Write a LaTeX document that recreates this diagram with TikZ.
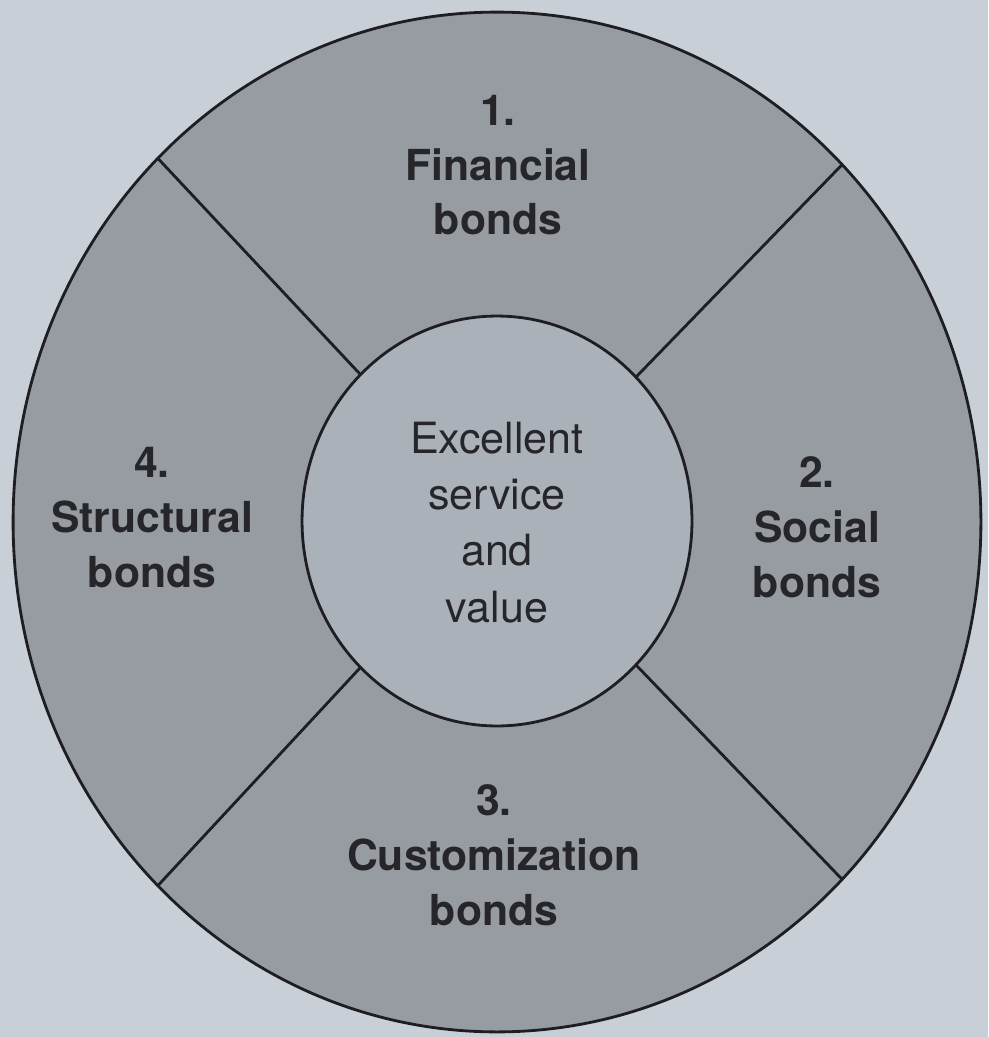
\documentclass[tikz,border=0pt]{standalone}
\usepackage{fontspec}
\setmainfont{TeX Gyre Heros}
\usetikzlibrary{shapes.geometric}
\definecolor{pagebg}{HTML}{C8CFD7}
\definecolor{ringgray}{HTML}{969CA2}
\definecolor{hubgray}{HTML}{AAB1B8}
\definecolor{inkline}{HTML}{1E1E22}
\definecolor{inktext}{HTML}{26262A}
\tikzset{
  disc/.style={ellipse, draw=inkline, line width=1.6pt, inner sep=0pt, outer sep=0pt},
  spoke/.style={draw=inkline, line width=1.6pt},
  bondlabel/.style={align=center, anchor=base, text=inktext,
    font=\fontsize{24.3}{31.2}\selectfont\bfseries},
  hublabel/.style={align=center, anchor=base, text=inktext,
    font=\fontsize{24.5}{31.9}\selectfont}
}
\begin{document}
\begin{tikzpicture}[x=0.02cm, y=-0.02cm]
  % page and frame
  \fill[pagebg] (0,0) rectangle (988,1037);
  \useasboundingbox (0,0) rectangle (988,1037);

  % outer ring and central hub
  \node[disc, fill=ringgray, minimum width=19.36cm, minimum height=20.4cm] (outer) at (497,522) {};
  \node[disc, fill=hubgray, minimum width=7.8cm, minimum height=8.2cm] (hub) at (497,521) {};

  % four spokes dividing the ring
  \draw[spoke] (hub.133.5) -- (outer.133.5);
  \draw[spoke] (hub.46.5) -- (outer.46.5);
  \draw[spoke] (hub.-46.5) -- (outer.-46.5);
  \draw[spoke] (hub.-133.5) -- (outer.-133.5);

  % labels
  \node[hublabel] (core) at (497,622) {Excellent\\service\\and\\value};
  \node[bondlabel] (financial) at (498,235) {1.\\Financial\\bonds};
  \node[bondlabel] (social) at (817,597) {2.\\Social\\bonds};
  \node[bondlabel] (custom) at (494,925) {3.\\Customization\\bonds};
  \node[bondlabel] (structural) at (152,587) {4.\\Structural\\bonds};
\end{tikzpicture}
\end{document}
